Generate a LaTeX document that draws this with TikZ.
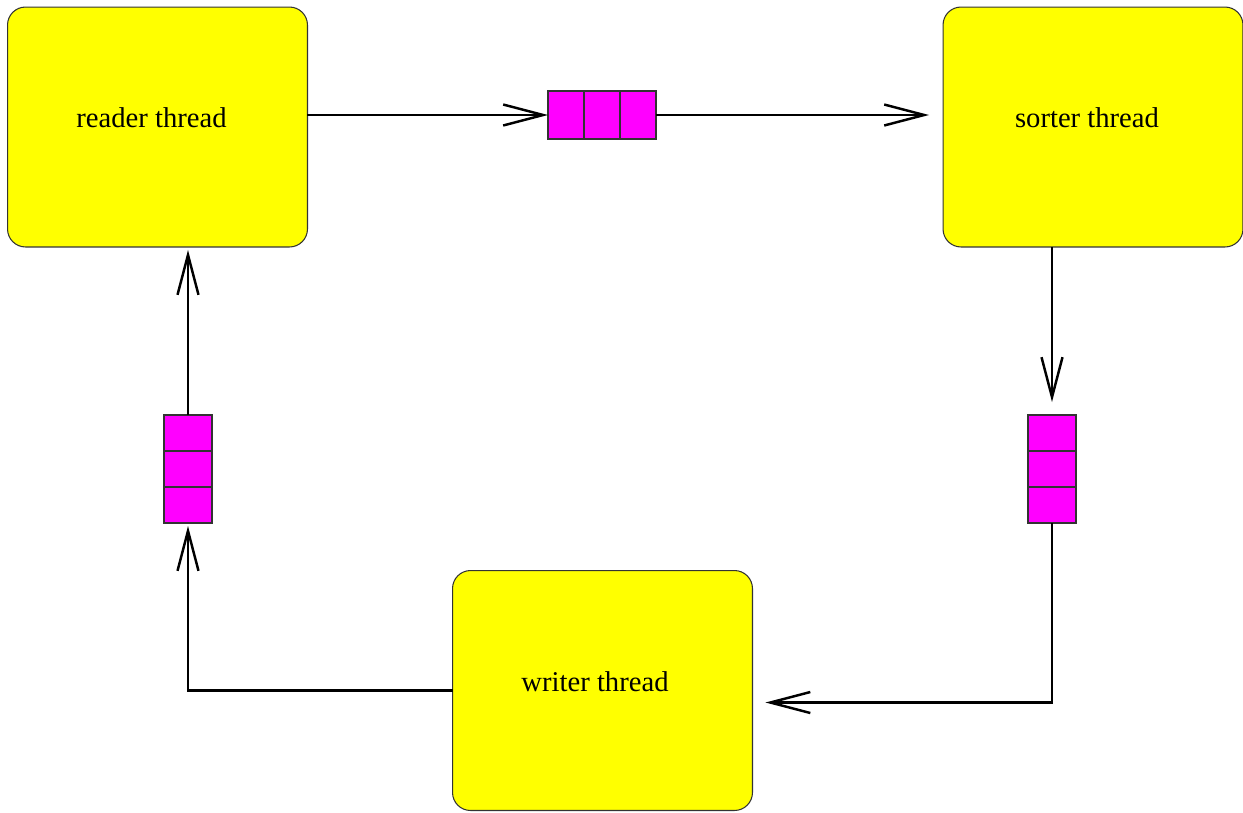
\documentclass[tikz,border=0pt]{standalone}
\usepackage{fontspec}
\setmainfont{Liberation Serif}
\usetikzlibrary{arrows.meta,calc}
\definecolor{boxyellow}{RGB}{255,255,0}
\definecolor{qmag}{RGB}{255,0,255}
\begin{document}
\begin{tikzpicture}[x=0.02cm,y=-0.02cm,
  threadbox/.style={draw=black!80,line width=0.6pt,fill=boxyellow,rounded corners=0.36cm,
    minimum width=6cm,minimum height=4.8cm,inner sep=0pt,outer sep=0pt},
  lbl/.style={font=\fontsize{16.3}{19}\selectfont,inner sep=0pt},
  qh/.style={draw=black!80,line width=0.6pt,fill=qmag,minimum width=2.16cm,minimum height=0.96cm,inner sep=0pt,outer sep=0pt},
  qv/.style={draw=black!80,line width=0.6pt,fill=qmag,minimum width=0.96cm,minimum height=2.16cm,inner sep=0pt,outer sep=0pt},
  divider/.style={draw=black!80,line width=0.6pt},
  conn/.style={line width=1.4pt,-{Straight Barb[length=0.8cm,width=0.42cm,line width=1.4pt]}}]
\useasboundingbox (0,0) rectangle (1243,812);
% thread boxes
\node[threadbox] (reader) at (157.5,127) {};
\node[lbl] (readerlbl) at (151.5,118) {reader thread};
\node[threadbox] (sorter) at (1093,127) {};
\node[lbl] (sorterlbl) at (1087,118) {sorter thread};
\node[threadbox] (writer) at (602.5,690.5) {};
\node[lbl] (writerlbl) at (595,682) {writer thread};
% queues
\node[qh] (q1) at (602,115) {};
\draw[divider] (584,91) -- (584,139);
\draw[divider] (620,91) -- (620,139);
\node[qv] (q2) at (1052,469) {};
\draw[divider] (1028,451) -- (1076,451);
\draw[divider] (1028,487) -- (1076,487);
\node[qv] (q3) at (188,469) {};
\draw[divider] (164,451) -- (212,451);
\draw[divider] (164,487) -- (212,487);
% connectors
\draw[conn] (reader.east |- q1.west) -- (q1.west);
\draw[conn,shorten >=14*0.02cm] (q1.east) -- (q1.east -| sorter.west);
\draw[conn,shorten >=13*0.02cm] (sorter.south -| q2.north) -- (q2.north);
\coordinate (wr) at ($(writer.east)+(0,12)$);
\draw[conn,shorten >=13*0.02cm] (q2.south) -- (q2.south |- wr) -- (wr);
\draw[conn,shorten >=3*0.02cm] (writer.west) -- (writer.west -| q3.south) -- (q3.south);
\draw[conn,shorten >=3*0.02cm] (q3.north) -- (q3.north |- reader.south);
\end{tikzpicture}
\end{document}
